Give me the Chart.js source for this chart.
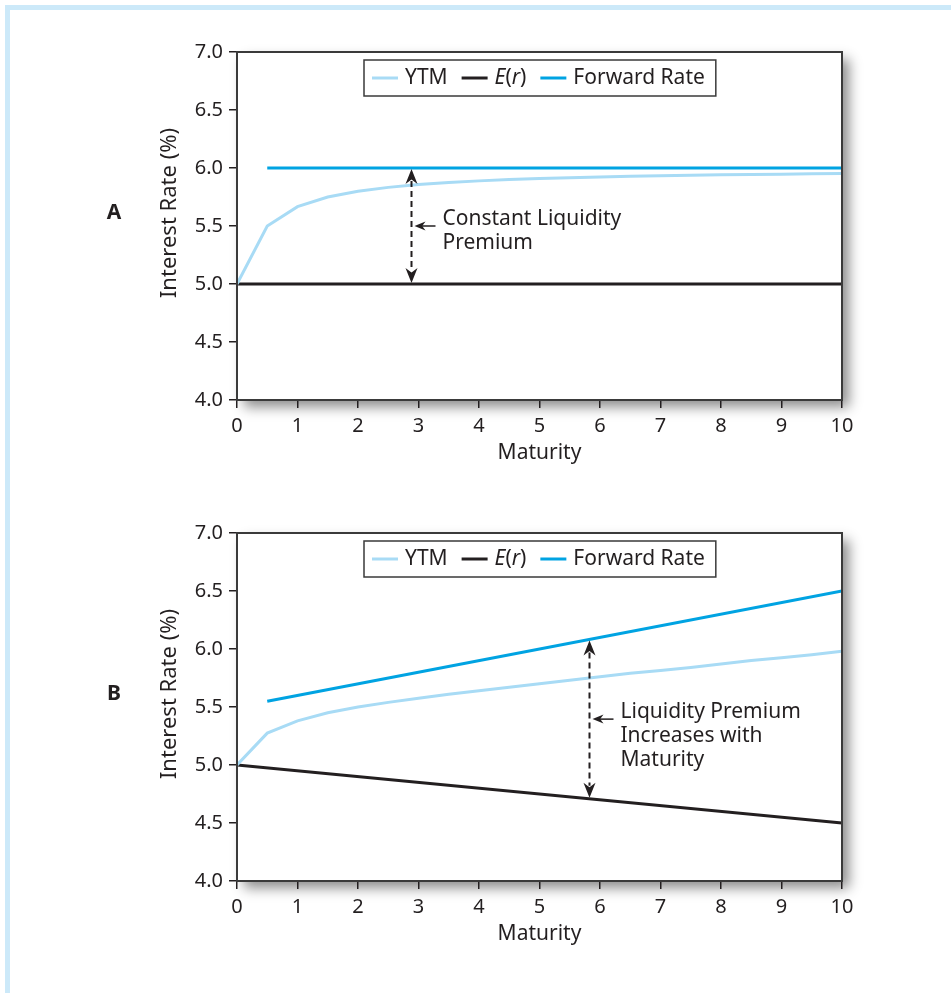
<!DOCTYPE html>
<html>
<head>
<meta charset="utf-8">
<title>Liquidity Premium</title>
<script src="https://cdn.jsdelivr.net/npm/chart.js@4.4.1/dist/chart.umd.min.js"></script>
<style>
    html, body { margin: 0; padding: 0; background: #fff; }
    body { width: 951px; height: 993px; position: relative; overflow: hidden; }
    .frame {
        position: absolute; left: 5px; top: 5px; right: 0; bottom: 0;
        border-top: 5px solid #cce9f9; border-left: 5px solid #cce9f9;
    }
    canvas { position: absolute; left: 0; }
    #chartA { top: 0; }
    #chartB { top: 481px; }
</style>
</head>
<body>
<div class="frame"></div>
<canvas id="chartA" width="951" height="480"></canvas>
<canvas id="chartB" width="951" height="480"></canvas>
<script>
// maturities (years) used by the YTM curves
const maturities = [0, 0.5, 1, 1.5, 2, 2.5, 3, 3.5, 4, 4.5, 5, 5.5, 6, 6.5, 7, 7.5, 8, 8.5, 9, 9.5, 10];
const erMaturities = [0, 10];
const fwdMaturities = [0.5, 10];

// panel A - constant liquidity premium
const ytmA = [5.00, 5.50, 5.667, 5.75, 5.80, 5.833, 5.857, 5.875, 5.889, 5.90, 5.909,
              5.917, 5.923, 5.929, 5.933, 5.938, 5.941, 5.944, 5.947, 5.95, 5.952];
const erA = [5.0, 5.0];
const fwdA = [6.0, 6.0];

// panel B - liquidity premium increases with maturity
const ytmB = [5.00, 5.275, 5.38, 5.45, 5.50, 5.54, 5.575, 5.61, 5.64, 5.67, 5.70,
              5.73, 5.76, 5.79, 5.815, 5.84, 5.87, 5.90, 5.925, 5.95, 5.98];
const erB = [5.0, 4.5];
const fwdB = [5.55, 6.5];

const xTicks = [0, 1, 2, 3, 4, 5, 6, 7, 8, 9, 10];
const yTicks = [4.0, 4.5, 5.0, 5.5, 6.0, 6.5, 7.0];

const FONT = '"Noto Sans", "Open Sans", sans-serif';
const INK = '#231f20';
const COLORS = {
    ytm: '#a8dbf5',
    er: '#231f20',
    fwd: '#00a3e2',
    frame: '#3a3a3a'
};

function pts(xs, ys) {
    return xs.map((x, i) => ({ x: x, y: ys[i] }));
}

// white plot box with drop shadow + border on all four sides
const plotBox = {
    id: 'plotBox',
    beforeDraw(chart) {
        const { ctx, chartArea: a } = chart;
        ctx.save();
        ctx.shadowColor = 'rgba(0, 0, 0, 0.45)';
        ctx.shadowBlur = 12;
        ctx.shadowOffsetX = 7;
        ctx.shadowOffsetY = 7;
        ctx.fillStyle = '#fff';
        ctx.fillRect(a.left, a.top, a.right - a.left, a.bottom - a.top);
        ctx.restore();
    },
    afterDraw(chart) {
        const { ctx, chartArea: a } = chart;
        ctx.save();
        ctx.strokeStyle = COLORS.frame;
        ctx.lineWidth = 2;
        ctx.strokeRect(a.left, a.top, a.right - a.left, a.bottom - a.top);
        ctx.restore();
    }
};

// legend in a box, E(r) drawn with italic letters
const legendBox = {
    id: 'legendBox',
    afterDatasetsDraw(chart) {
        const { ctx, chartArea: a } = chart;
        const size = 21, sample = 26, gapText = 7, gapItem = 14, padL = 8, padR = 11, h = 36;
        ctx.save();
        const items = chart.data.datasets.map(ds => {
            const parts = ds.italicLetters
                ? ds.label.split('').map(c => ({ t: c, it: /[A-Za-z]/.test(c) }))
                : [{ t: ds.label, it: false }];
            parts.forEach(p => {
                ctx.font = (p.it ? 'italic ' : '') + size + 'px ' + FONT;
                p.w = ctx.measureText(p.t).width;
            });
            const tw = parts.reduce((s, p) => s + p.w, 0);
            return { ds: ds, parts: parts, w: sample + gapText + tw };
        });
        const total = items.reduce((s, i) => s + i.w, 0) + gapItem * (items.length - 1) + padL + padR;
        const x0 = Math.round((a.left + a.right) / 2 - total / 2);
        const y0 = a.top + 8;
        const cy = y0 + h / 2;

        ctx.fillStyle = '#fff';
        ctx.fillRect(x0, y0, total, h);
        ctx.strokeStyle = COLORS.frame;
        ctx.lineWidth = 1.5;
        ctx.strokeRect(x0, y0, total, h);

        let x = x0 + padL;
        items.forEach(item => {
            ctx.strokeStyle = item.ds.borderColor;
            ctx.lineWidth = 3;
            ctx.beginPath();
            ctx.moveTo(x, cy);
            ctx.lineTo(x + sample, cy);
            ctx.stroke();
            let tx = x + sample + gapText;
            ctx.fillStyle = INK;
            ctx.textBaseline = 'middle';
            ctx.textAlign = 'left';
            item.parts.forEach(p => {
                ctx.font = (p.it ? 'italic ' : '') + size + 'px ' + FONT;
                ctx.fillText(p.t, tx, cy);
                tx += p.w;
            });
            x += item.w + gapItem;
        });
        ctx.restore();
    }
};

function arrowHead(ctx, x, y, dx, dy, len, half) {
    // stealth-style head, tip at (x, y), pointing along (dx, dy)
    const px = -dy, py = dx;
    ctx.beginPath();
    ctx.moveTo(x, y);
    ctx.lineTo(x - dx * len + px * half, y - dy * len + py * half);
    ctx.lineTo(x - dx * len * 0.7, y - dy * len * 0.7);
    ctx.lineTo(x - dx * len - px * half, y - dy * len - py * half);
    ctx.closePath();
    ctx.fill();
}

// dashed double arrow + label, plus the panel letter and y title
function makeAnnotation(panel) {
    return {
        id: 'premiumNote',
        afterDatasetsDraw(chart) {
            const { ctx, chartArea: a, scales } = chart;
            const x = Math.round(scales.x.getPixelForValue(panel.arrowAt)) + 0.5;
            const yTop = scales.y.getPixelForValue(panel.arrowTop) + 1;
            const yBot = scales.y.getPixelForValue(panel.arrowBottom) - 1;
            const midY = (yTop + yBot) / 2;
            ctx.save();
            ctx.strokeStyle = INK;
            ctx.fillStyle = INK;
            ctx.lineWidth = 2;
            ctx.setLineDash([6, 4]);
            ctx.beginPath();
            ctx.moveTo(x, yTop + 12);
            ctx.lineTo(x, yBot - 12);
            ctx.stroke();
            ctx.setLineDash([]);
            arrowHead(ctx, x, yTop, 0, -1, 15, 6);
            arrowHead(ctx, x, yBot, 0, 1, 15, 6);

            ctx.lineWidth = 1.5;
            ctx.beginPath();
            ctx.moveTo(x + 24, midY);
            ctx.lineTo(x + 8, midY);
            ctx.stroke();
            arrowHead(ctx, x + 3, midY, -1, 0, 11, 4.5);

            ctx.font = '21px ' + FONT;
            ctx.textAlign = 'left';
            ctx.textBaseline = 'alphabetic';
            panel.note.forEach((line, i) => {
                ctx.fillText(line, x + 31, midY - 1 + i * 24);
            });

            const cy = (a.top + a.bottom) / 2 - 13;
            ctx.font = 'bold 21px ' + FONT;
            ctx.textAlign = 'center';
            ctx.textBaseline = 'middle';
            ctx.fillText(panel.letter, 114, cy);

            ctx.font = '22px ' + FONT;
            ctx.translate(170, cy);
            ctx.rotate(-Math.PI / 2);
            ctx.fillText('Interest Rate (%)', 0, 0);
            ctx.restore();
        }
    };
}

function makeChart(canvasId, panel) {
    const canvas = document.getElementById(canvasId);
    if (!canvas) return;

    new Chart(canvas, {
        type: 'line',
        data: {
            datasets: [{
                label: 'YTM',
                data: pts(maturities, panel.ytm),
                borderColor: COLORS.ytm,
                borderWidth: 3
            }, {
                label: 'E(r)',
                italicLetters: true,
                data: pts(erMaturities, panel.er),
                borderColor: COLORS.er,
                borderWidth: 3
            }, {
                label: 'Forward Rate',
                data: pts(fwdMaturities, panel.fwd),
                borderColor: COLORS.fwd,
                borderWidth: 3
            }]
        },
        options: {
            responsive: false,
            animation: false,
            elements: {
                point: { radius: 0, hoverRadius: 0 },
                line: { tension: 0, fill: false }
            },
            layout: { padding: { left: 0, top: 52, right: 109, bottom: 0 } },
            plugins: {
                legend: { display: false },
                tooltip: { enabled: false }
            },
            scales: {
                x: {
                    type: 'linear',
                    min: 0,
                    max: 10,
                    afterBuildTicks: s => { s.ticks = xTicks.map(v => ({ value: v })); },
                    ticks: { color: INK, font: { family: FONT, size: 20 }, padding: 6, maxRotation: 0 },
                    grid: { drawOnChartArea: false, drawTicks: true, tickLength: 8, color: INK, lineWidth: 1.5 },
                    border: { display: true, color: COLORS.frame, width: 2 },
                    title: {
                        display: true,
                        text: 'Maturity',
                        color: INK,
                        font: { family: FONT, size: 21 },
                        padding: { top: 0, bottom: 14 }
                    },
                    afterFit(s) { s.height = 80; }
                },
                y: {
                    type: 'linear',
                    min: 4,
                    max: 7,
                    afterBuildTicks: s => { s.ticks = yTicks.map(v => ({ value: v })); },
                    ticks: {
                        color: INK,
                        font: { family: FONT, size: 20 },
                        padding: 6,
                        callback: v => v.toFixed(1)
                    },
                    grid: { drawOnChartArea: false, drawTicks: true, tickLength: 8, color: INK, lineWidth: 1.5 },
                    border: { display: true, color: COLORS.frame, width: 2 },
                    afterFit(s) { s.width = 237; }
                }
            }
        },
        plugins: [plotBox, legendBox, makeAnnotation(panel)]
    });
}

makeChart('chartA', {
    letter: 'A', ytm: ytmA, er: erA, fwd: fwdA,
    arrowAt: 2.88, arrowTop: 6.0, arrowBottom: 5.0,
    note: ['Constant Liquidity', 'Premium']
});

makeChart('chartB', {
    letter: 'B', ytm: ytmB, er: erB, fwd: fwdB,
    arrowAt: 5.82, arrowTop: 6.082, arrowBottom: 4.709,
    note: ['Liquidity Premium', 'Increases with', 'Maturity']
});
</script>
</body>
</html>
